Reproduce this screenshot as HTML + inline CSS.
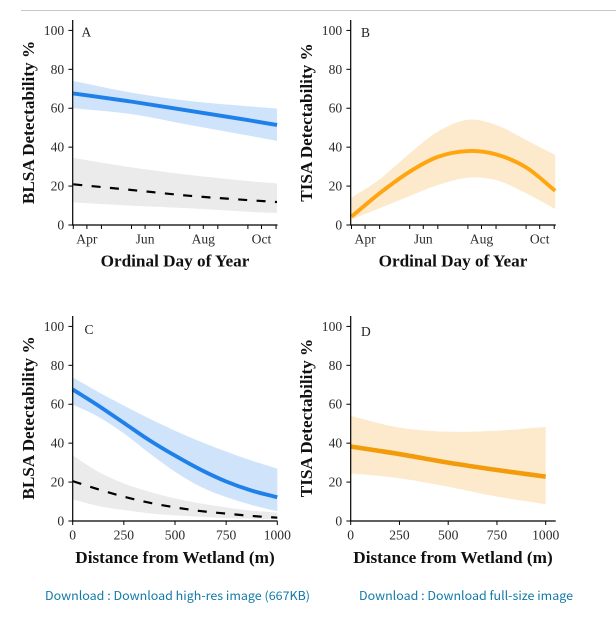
<!DOCTYPE html>
<html lang="en">
<head>
<meta charset="utf-8">
<title>Detectability charts</title>
<style>
html,body{margin:0;padding:0;background:#fff;width:616px;height:623px;overflow:hidden}
svg{display:block;position:absolute;left:0;top:0}
.tick{font:13.6px "Liberation Serif",serif;fill:#2b2b2b}
.title{font:bold 17.2px "Liberation Serif",serif;fill:#111;text-anchor:middle}
.letter{font:13.5px "Liberation Serif",serif;fill:#222}
.link{font:12px "Noto Sans CJK SC","Liberation Sans",sans-serif;fill:#1079a8;cursor:pointer}
</style>
</head>
<body>
<svg id="chart" width="616" height="623" viewBox="0 0 616 623" xmlns="http://www.w3.org/2000/svg">
  <rect x="0" y="0" width="616" height="623" fill="#fff"/>
  <line x1="21" y1="10.5" x2="616" y2="10.5" stroke="#c6c6c6" stroke-width="1"/>

  <g id="panel-a"></g>
  <g id="panel-b"></g>
  <g id="panel-c"></g>
  <g id="panel-d"></g>

  <text class="title" transform="translate(34,122.5) rotate(-90)">BLSA Detectability %</text>
  <text class="title" x="175" y="266.5">Ordinal Day of Year</text>
  <text class="letter" x="81.5" y="36.5">A</text>

  <text class="title" transform="translate(312,122.5) rotate(-90)">TISA Detectability %</text>
  <text class="title" x="453" y="266.5">Ordinal Day of Year</text>
  <text class="letter" x="361" y="37">B</text>

  <text class="title" transform="translate(34,418) rotate(-90)">BLSA Detectability %</text>
  <text class="title" x="175" y="563">Distance from Wetland (m)</text>
  <text class="letter" x="84.5" y="334">C</text>

  <text class="title" transform="translate(312,418) rotate(-90)">TISA Detectability %</text>
  <text class="title" x="453" y="563">Distance from Wetland (m)</text>
  <text class="letter" x="361" y="336">D</text>

  <text class="link" x="45" y="600" textLength="265" lengthAdjust="spacingAndGlyphs">Download : Download high-res image (667KB)</text>
  <text class="link" x="359" y="600" textLength="214" lengthAdjust="spacingAndGlyphs">Download : Download full-size image</text>
</svg>
<script>
// Shared axis values
const yTicks = [0, 20, 40, 60, 80, 100];
const monthMinorTicks = [90, 119, 150, 179, 210, 239, 270, 299];
const monthLabelTicks = [104, 164, 224, 284];
const monthLabels = ['Apr', 'Jun', 'Aug', 'Oct'];
const distanceTicks = [0, 250, 500, 750, 1000];

// Panel A: BLSA detectability by day of year
const daysA = [90, 150, 210, 270, 300];
const aBlueLine = [67.6, 63.4, 58.7, 53.9, 51.4];
const aBlueUpper = [74, 68, 63.7, 61, 59.8];
const aBlueLower = [60, 57, 51.4, 46, 43.2];
const aGrayLine = [20.9, 18, 15, 12.8, 11.8];
const aGrayUpper = [34.4, 29.6, 25.7, 22.6, 21.4];
const aGrayLower = [11.6, 9.9, 8.6, 6.8, 6.2];

// Panel B: TISA detectability by day of year
const daysB = [90, 119, 150, 179, 210, 239, 270, 300];
const bLine = [4.3, 16.3, 27.4, 35, 38, 36.3, 29.6, 17.6];
const bUpper = [14, 23.5, 36.8, 48, 54.1, 51.4, 43.7, 36];
const bLower = [2.9, 8.6, 14.9, 20.5, 24.3, 23.1, 16.3, 8.2];

// Panel C: BLSA detectability by distance
const distC = [0, 125, 250, 375, 500, 625, 750, 875, 1000];
const cBlueLine = [67.6, 59.3, 50.4, 41.5, 33.6, 26.4, 20.3, 15.6, 12.2];
const cBlueUpper = [73.8, 66.3, 59.3, 52.6, 46.4, 40.8, 35.7, 31, 26.9];
const cBlueLower = [59.8, 53.6, 45, 34.8, 25.3, 17.6, 12.3, 8.2, 5];
const cGrayLine = [20.5, 16.3, 12.5, 9.4, 7, 5.1, 3.8, 2.6, 1.7];
const cGrayUpper = [33.7, 25.3, 19.3, 15, 11.6, 9, 7, 5.3, 4.3];
const cGrayLower = [11.1, 7.7, 5.6, 3.9, 2.9, 2.2, 1.5, 1.2, 0.9];

// Panel D: TISA detectability by distance
const distD = [0, 250, 500, 750, 1000];
const dLine = [38.3, 34.4, 30, 26.2, 22.8];
const dUpper = [54, 48, 45.9, 46.4, 48.3];
const dLower = [24.5, 22, 17.6, 12.5, 8.6];

const NS = 'http://www.w3.org/2000/svg';
const BLUE = '#1f80ea', BLUE_BAND = '#cfe4fb', GRAY_BAND = '#ebebeb', ORANGE = '#ffa50f', ORANGE_D = '#f39c0b', ORANGE_BAND = '#fdeacd';

function mk(parent, tag, attrs, text) {
  const el = document.createElementNS(NS, tag);
  for (const k in attrs) el.setAttribute(k, attrs[k]);
  if (text !== undefined) el.textContent = text;
  parent.appendChild(el);
  return el;
}
function scale(d0, d1, r0, r1) {
  return v => r0 + (v - d0) * (r1 - r0) / (d1 - d0);
}
function curve(pts, start) {
  let s = (start || 'M') + pts[0][0].toFixed(2) + ' ' + pts[0][1].toFixed(2);
  for (let i = 0; i < pts.length - 1; i++) {
    const p0 = pts[Math.max(i - 1, 0)], p1 = pts[i], p2 = pts[i + 1], p3 = pts[Math.min(i + 2, pts.length - 1)];
    const h = p2[0] - p1[0];
    const m1 = (p2[1] - p0[1]) / (p2[0] - p0[0]);
    const m2 = (p3[1] - p1[1]) / (p3[0] - p1[0]);
    const c1x = p1[0] + h / 3, c1y = p1[1] + m1 * h / 3;
    const c2x = p2[0] - h / 3, c2y = p2[1] - m2 * h / 3;
    s += 'C' + [c1x, c1y, c2x, c2y, p2[0], p2[1]].map(n => n.toFixed(2)).join(' ');
  }
  return s;
}
function points(xs, ys, sx, sy) {
  return xs.map((x, i) => [sx(x), sy(ys[i])]);
}
function drawBand(g, xs, up, low, sx, sy, fill) {
  const u = points(xs, up, sx, sy), l = points(xs, low, sx, sy).reverse();
  const el = mk(g, 'path', { d: curve(u) + curve(l, 'L') + 'Z', fill: fill, stroke: 'none' });
  
  
}
function drawLine(g, xs, ys, sx, sy, color, width, dash) {
  const el = mk(g, 'path', { d: curve(points(xs, ys, sx, sy)), fill: 'none', stroke: color, 'stroke-width': width });
  if (dash) el.setAttribute('stroke-dasharray', dash);
  
  
}
function drawAxes(g, sx, sy, axisX, axisRight, y0, yTop) {
  const yAxis = mk(g, 'line', { x1: axisX, x2: axisX, y1: yTop, y2: y0 + 0.5, stroke: '#000', 'stroke-width': 1.2 });
  
  
  const xAxis = mk(g, 'line', { x1: axisX - 0.6, x2: axisRight, y1: y0, y2: y0, stroke: '#000', 'stroke-width': 1.2 });
  
  
  yTicks.forEach(v => {
    const t = mk(g, 'line', { x1: axisX - 4.3, x2: axisX, y1: sy(v), y2: sy(v), stroke: '#000', 'stroke-width': 1 });
    
    
    const l = mk(g, 'text', { class: 'tick', x: axisX - 8.5, y: sy(v) + 4.5, 'text-anchor': 'end' }, String(v));
    
    
  });
}
function monthTicks(g, sx, y0) {
  monthMinorTicks.concat(monthLabelTicks).forEach(d => {
    const t = mk(g, 'line', { x1: sx(d), x2: sx(d), y1: y0, y2: y0 + 4, stroke: '#000', 'stroke-width': 1 });
    
    
  });
  monthLabelTicks.forEach((d, i) => {
    const l = mk(g, 'text', { class: 'tick', x: sx(d), y: y0 + 18.5, 'text-anchor': 'middle' }, monthLabels[i]);
    
    
  });
}
function distanceAxis(g, sx, y0) {
  distanceTicks.forEach(d => {
    const t = mk(g, 'line', { x1: sx(d), x2: sx(d), y1: y0, y2: y0 + 4, stroke: '#000', 'stroke-width': 1 });
    
    
    const l = mk(g, 'text', { class: 'tick', x: sx(d), y: y0 + 18.5, 'text-anchor': 'middle' }, String(d));
    
    
  });
}

const topY = scale(0, 100, 225, 30.4);
const botY = scale(0, 100, 521, 326.4);
const axA = scale(90, 300, 73.3, 277);
const axB = scale(90, 300, 351.5, 555.2);
const axC = scale(0, 1000, 72.7, 277.3);
const axD = scale(0, 1000, 350.7, 545.7);

// Panel A
const gA = document.getElementById('panel-a');
drawBand(gA, daysA, aBlueUpper, aBlueLower, axA, topY, BLUE_BAND);
drawBand(gA, daysA, aGrayUpper, aGrayLower, axA, topY, GRAY_BAND);
drawLine(gA, daysA, aBlueLine, axA, topY, BLUE, 3.9);
drawLine(gA, daysA, aGrayLine, axA, topY, '#000', 2.2, '9 9.4');
drawAxes(gA, axA, topY, 72.7, 277.5, 225, 20);
monthTicks(gA, axA, 225);

// Panel B
const gB = document.getElementById('panel-b');
drawBand(gB, daysB, bUpper, bLower, axB, topY, ORANGE_BAND);
drawLine(gB, daysB, bLine, axB, topY, ORANGE, 3.9);
drawAxes(gB, axB, topY, 350.7, 555.7, 225, 20);
monthTicks(gB, axB, 225);

// Panel C
const gC = document.getElementById('panel-c');
drawBand(gC, distC, cBlueUpper, cBlueLower, axC, botY, BLUE_BAND);
drawBand(gC, distC, cGrayUpper, cGrayLower, axC, botY, GRAY_BAND);
drawLine(gC, distC, cBlueLine, axC, botY, BLUE, 3.9);
drawLine(gC, distC, cGrayLine, axC, botY, '#000', 2.2, '9 9.4');
drawAxes(gC, axC, botY, 72.7, 277.5, 521, 316);
distanceAxis(gC, axC, 521);

// Panel D
const gD = document.getElementById('panel-d');
drawBand(gD, distD, dUpper, dLower, axD, botY, ORANGE_BAND);
drawLine(gD, distD, dLine, axD, botY, ORANGE_D, 4.6);
drawAxes(gD, axD, botY, 350.7, 555.7, 521, 316);
distanceAxis(gD, axD, 521);
</script>
</body>
</html>
